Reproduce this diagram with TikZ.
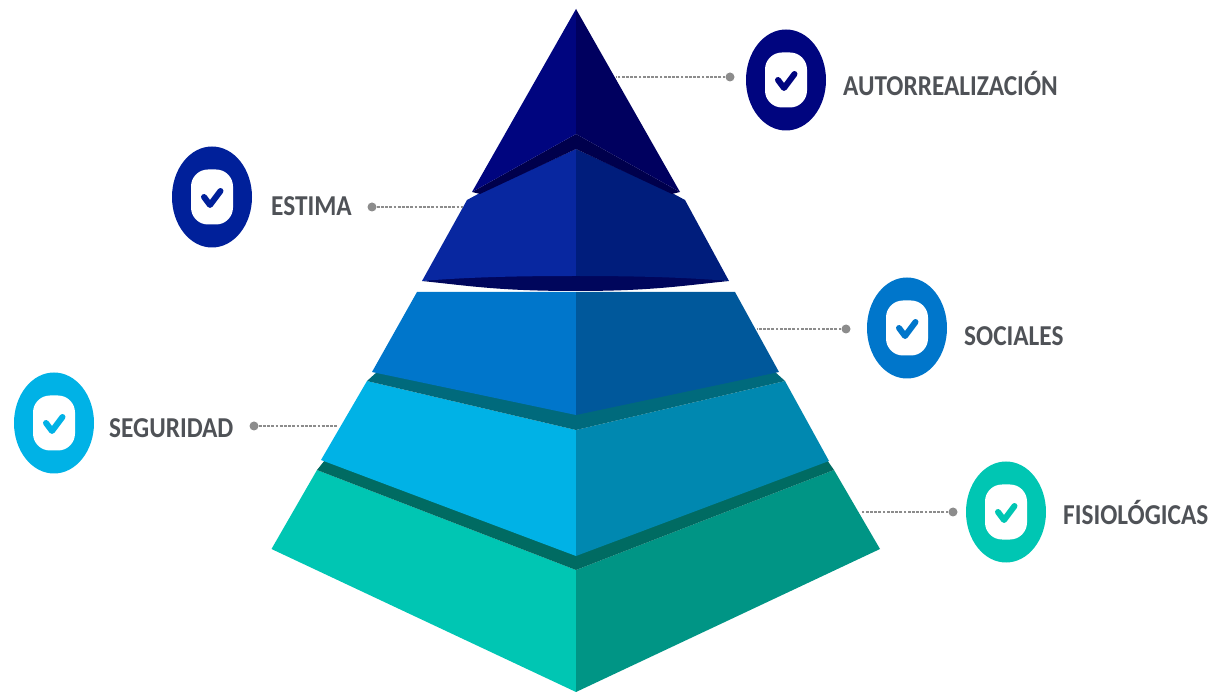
\documentclass[tikz,border=0pt]{standalone}
\usepackage{fontspec}
\setmainfont{Carlito}
\usetikzlibrary{shapes.geometric}
\definecolor{topL}{HTML}{00057F}
\definecolor{topR}{HTML}{00005F}
\definecolor{topS}{HTML}{00004C}
\definecolor{estL}{HTML}{0827A0}
\definecolor{estB}{HTML}{00209A}
\definecolor{estR}{HTML}{001D7C}
\definecolor{estS}{HTML}{00065C}
\definecolor{socL}{HTML}{0076CB}
\definecolor{socR}{HTML}{00589B}
\definecolor{socS}{HTML}{006A7C}
\definecolor{segL}{HTML}{00B2E6}
\definecolor{segR}{HTML}{0088B0}
\definecolor{segS}{HTML}{006B62}
\definecolor{fisL}{HTML}{00C6B3}
\definecolor{fisR}{HTML}{009585}
\definecolor{txtgray}{HTML}{4F5257}
\definecolor{leadgray}{HTML}{8C8C8C}
\tikzset{
  badge/.style={ellipse,fill=#1,minimum width=80pt,minimum height=101pt,inner sep=0pt},
  inbox/.style={rectangle,rounded corners=17pt,fill=white,minimum width=42pt,minimum height=55pt,inner sep=0pt},
  caption/.style={inner sep=0pt,text=txtgray,font=\fontsize{25.3}{28}\selectfont\bfseries},
  dotend/.style={circle,fill=leadgray,minimum size=9pt,inner sep=0pt},
  leader/.style={leadgray,line width=1.4pt,dash pattern=on 2.8pt off 1.4pt},
  tick/.style={line width=6pt,line cap=round,line join=round}
}
\newcommand{\mkbadge}[4]{%
  \node[badge=#4] (#1) at (#2,#3) {};
  \node[inbox] (#1in) at (#2,#3) {};
  \draw[tick,#4] (#2-8,#3) -- (#2-2,#3+8) -- (#2+8.5,#3-6);
}
\newcommand{\captext}[1]{\scalebox{1}[1.14]{#1}}
\begin{document}
\begin{tikzpicture}[x=1pt,y=-1pt]
\useasboundingbox (0,0) rectangle (1219,692);
% bottom tier
\fill[fisL] (317,470) -- (271.5,549) -- (576,692) -- (576,570) -- cycle;
\fill[fisR] (834,470) -- (880,549) -- (576,692) -- (576,570) -- cycle;
\fill[segS] (317,470) -- (325,460) -- (576,540) -- (827,460) -- (834,470) -- (576,570) -- cycle;
% seguridad
\fill[segL] (367,381) -- (321,460) -- (576,556) -- (576,430) -- cycle;
\fill[segR] (785,381) -- (829,461) -- (576,556) -- (576,430) -- cycle;
\fill[socS] (367,381) -- (378,371) -- (576,400) -- (774,371) -- (785,381) -- (576,430) -- cycle;
% sociales
\fill[socL] (417,292) -- (372,372) -- (576,415) -- (576,292) -- cycle;
\fill[socR] (735,292) -- (779,372) -- (576,415) -- (576,292) -- cycle;
% estima
\fill[estS] (422,281) .. controls (480,272) and (672,272) .. (729,281) .. controls (680,286) and (650,291) .. (576,291) .. controls (500,291) and (470,286) .. (422,281) -- cycle;
\fill[estL] (480,193) -- (467,200) -- (422,281) .. controls (470,277) and (520,276) .. (576,276) -- (576,149) -- cycle;
\fill[estR] (672,193) -- (685,200) -- (729,281) .. controls (680,277) and (630,276) .. (576,276) -- (576,149) -- cycle;
% top
\fill[topS] (472,192) -- (576,134) -- (680,192) -- (672,194) -- (576,149) -- (480,194) -- cycle;
\fill[topL] (576,9) -- (472,192) -- (576,134) -- cycle;
\fill[topR] (576,9) -- (680,192) -- (576,134) -- cycle;
% badges
\mkbadge{bA}{786}{80}{topL}
\mkbadge{bB}{212}{197}{estB}
\mkbadge{bC}{907}{328}{socL}
\mkbadge{bD}{54}{423}{segL}
\mkbadge{bE}{1006}{512}{fisL}
% captions
\node[caption,anchor=west] (tA) at (843,83) {\captext{AUTORREALIZACIÓN}};
\node[caption,anchor=west] (tB) at (271,206) {\captext{ESTIMA}};
\node[caption,anchor=west] (tC) at (964,336) {\captext{SOCIALES}};
\node[caption,anchor=west] (tD) at (109,428) {\captext{SEGURIDAD}};
\node[caption,anchor=west] (tE) at (1063,512) {\captext{FISIOLÓGICAS}};
% leaders
\node[dotend] (dA) at (730,77) {};
\node[dotend] (dB) at (372,207) {};
\node[dotend] (dC) at (846,329) {};
\node[dotend] (dD) at (254,426) {};
\node[dotend] (dE) at (953,512) {};
\coordinate (eA) at (616,77);
\coordinate (eB) at (463,207);
\coordinate (eC) at (757,329);
\coordinate (eD) at (338,426);
\coordinate (eE) at (862,512);
\draw[leader] (dA) -- (eA);
\draw[leader] (dB) -- (eB);
\draw[leader] (dC) -- (eC);
\draw[leader] (dD) -- (eD);
\draw[leader] (dE) -- (eE);
\end{tikzpicture}
\end{document}
